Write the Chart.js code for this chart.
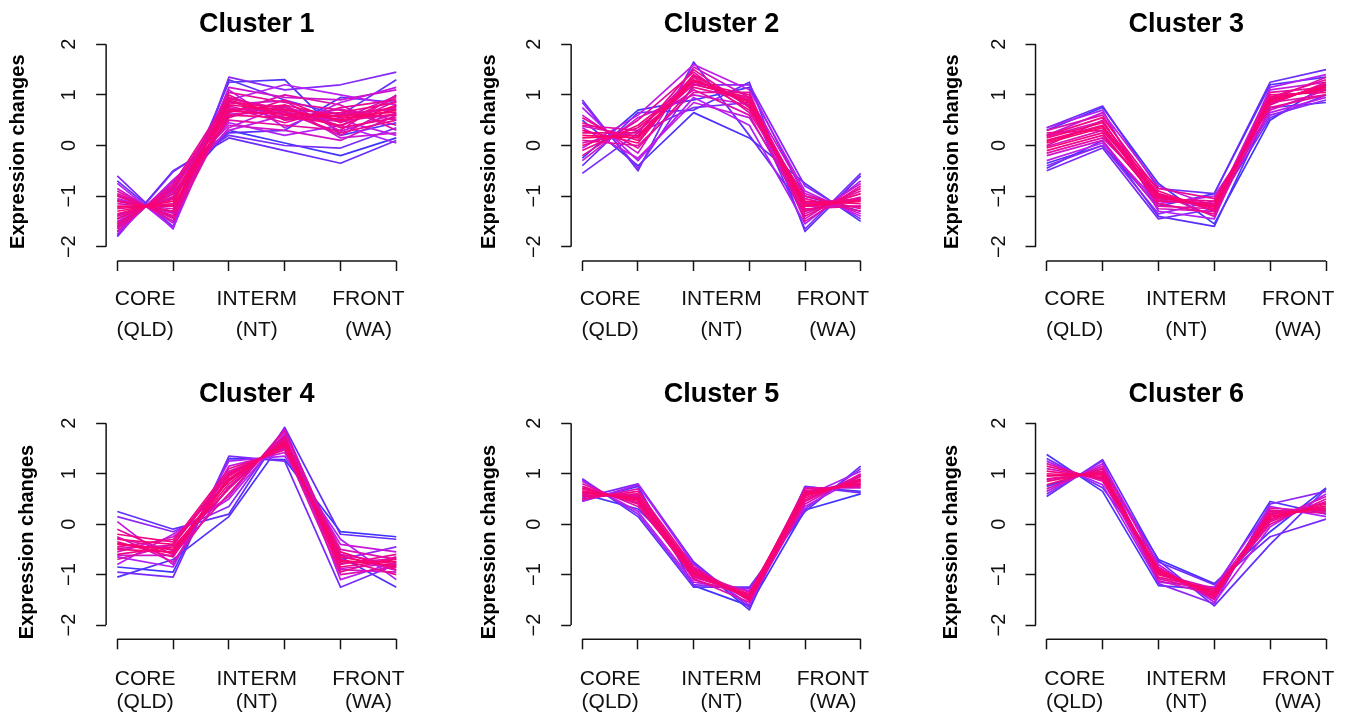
<!DOCTYPE html>
<html>
<head>
<meta charset="utf-8">
<title>Mfuzz clusters</title>
<script src="https://cdn.jsdelivr.net/npm/chart.js@4/dist/chart.umd.min.js"></script>
<style>
  body { margin: 0; background: #fff; }
  #page { position: relative; width: 1351px; height: 717px; overflow: hidden; background: #fff; }
  #page canvas { position: absolute; }
</style>
</head>
<body>
<div id="page"></div>
<script>
// sample positions: two per region
const timePoints = [1, 2, 3, 4, 5, 6];
const stageLabels = [['CORE', '(QLD)'], ['INTERM', '(NT)'], ['FRONT', '(WA)']];
const stagePos = [1.5, 3.5, 5.5];
const yTicks = [-2, -1, 0, 1, 2];
const yTickLabels = ['\u22122', '\u22121', '0', '1', '2'];
const clusterTitles = ['Cluster 1', 'Cluster 2', 'Cluster 3', 'Cluster 4', 'Cluster 5', 'Cluster 6'];

// profiles, one row per gene, with its membership
const cluster1 = [
  [-1.30, -1.10, 0.80, 0.70, 0.50, 0.70],
  [-1.10, -1.30, 0.90, 0.60, 0.40, 0.80],
  [-1.45, -0.96, 0.70, 0.80, 0.55, 0.60],
  [-1.20, -1.20, 0.60, 0.55, 0.65, 0.85],
  [-1.55, -0.87, 0.85, 0.75, 0.35, 0.55],
  [-1.00, -1.39, 1.00, 0.50, 0.60, 0.75],
  [-1.35, -1.06, 0.55, 0.90, 0.45, 0.95],
  [-1.65, -0.77, 0.95, 0.65, 0.25, 0.50],
  [-0.95, -1.44, 0.75, 0.45, 0.75, 0.90],
  [-1.25, -1.15, 1.05, 0.85, 0.70, 0.40],
  [-1.40, -1.01, 0.50, 0.40, 0.30, 1.00],
  [-0.90, -1.49, 0.65, 1.00, 0.80, 0.30],
  [-1.60, -0.82, 0.88, 0.55, 0.48, 0.62],
  [-1.15, -1.25, 0.72, 0.68, 0.20, 0.78],
  [-1.70, -0.72, 0.40, 0.30, 0.10, 0.60],
  [-0.85, -1.53, 1.15, 0.95, 0.90, 1.10],
  [-1.50, -0.92, 0.35, 0.80, 0.15, 0.25],
  [-1.05, -1.34, 1.10, 0.35, 0.85, 1.15],
  [-1.75, -0.68, 0.30, 0.60, 0.50, 0.20],
  [-0.75, -1.63, 0.90, 1.20, 1.00, 0.80],
  [-1.62, -0.80, 0.45, 0.20, 0.40, 0.05],
  [-0.60, -1.65, 1.35, 1.10, 1.20, 1.45],
  [-1.80, -0.52, 0.20, 0.00, -0.05, 0.35],
  [-1.78, -0.50, 0.15, -0.10, -0.35, 0.10],
  [-0.70, -1.60, 1.30, 0.90, 0.60, 1.30],
  [-1.70, -0.72, 0.25, 0.30, 0.95, 0.85],
  [-1.10, -1.30, 1.25, 1.30, 0.20, 0.45],
  [-1.45, -0.96, 0.30, 0.05, -0.20, 0.15],
  [-1.22, -1.18, 0.68, 0.62, 0.58, 0.66],
  [-1.38, -1.04, 0.92, 0.72, 0.62, 0.72],
  [-1.08, -1.32, 0.58, 0.78, 0.38, 0.88],
  [-1.52, -0.90, 0.78, 0.52, 0.72, 0.50],
  [-0.98, -1.42, 0.82, 0.88, 0.28, 0.64],
  [-1.58, -0.85, 0.62, 0.66, 0.52, 0.98]
];
const member1 = [0.98, 0.96, 0.95, 0.94, 0.93, 0.92, 0.91, 0.90, 0.89, 0.88, 0.87, 0.86, 0.85, 0.84,
  0.80, 0.78, 0.76, 0.74, 0.72, 0.70, 0.68, 0.58, 0.55, 0.52, 0.50, 0.48, 0.45, 0.42,
  0.97, 0.83, 0.82, 0.81, 0.79, 0.77];

const cluster2 = [
  [0.15, 0.20, 1.30, 0.85, -1.20, -1.10],
  [0.30, 0.05, 1.40, 0.80, -1.10, -1.15],
  [0.00, 0.35, 1.20, 0.95, -1.30, -0.95],
  [0.45, 0.10, 1.35, 0.70, -1.00, -1.25],
  [-0.10, 0.40, 1.25, 1.00, -1.40, -0.85],
  [0.25, 0.25, 1.50, 0.75, -1.15, -1.05],
  [0.55, -0.05, 1.15, 0.90, -1.25, -1.20],
  [-0.20, 0.50, 1.45, 0.65, -1.05, -1.30],
  [0.10, 0.00, 1.05, 1.05, -1.50, -0.80],
  [0.40, 0.30, 1.10, 0.60, -1.35, -0.90],
  [0.60, -0.15, 1.55, 0.95, -0.95, -1.35],
  [-0.30, 0.55, 1.00, 0.80, -1.45, -0.75],
  [0.35, -0.25, 0.85, 0.55, -1.20, -1.20],
  [-0.05, 0.60, 1.60, 1.10, -0.90, -1.40],
  [0.75, -0.30, 0.95, 0.40, -1.55, -0.70],
  [0.85, -0.45, 1.20, 1.20, -0.80, -1.45],
  [-0.55, 0.25, 0.75, 0.85, -1.65, -0.55],
  [0.90, -0.50, 1.65, 0.20, -1.30, -1.05],
  [-0.40, 0.65, 0.70, 1.25, -1.70, -0.60],
  [0.50, -0.40, 0.65, 0.15, -0.75, -1.50],
  [-0.25, 0.70, 0.90, 1.15, -1.00, -1.30],
  [0.20, 0.15, 1.28, 0.88, -1.18, -1.08],
  [0.05, 0.28, 1.38, 0.78, -1.28, -1.02],
  [0.38, 0.18, 1.22, 0.92, -1.12, -1.22]
];
const member2 = [0.98, 0.96, 0.95, 0.93, 0.92, 0.91, 0.90, 0.88, 0.87, 0.85, 0.80,
  0.78, 0.75, 0.72, 0.68, 0.60, 0.55, 0.52, 0.50, 0.45, 0.42, 0.97, 0.83, 0.82];

const cluster3 = [
  [0.05, 0.35, -1.00, -1.20, 0.90, 1.15],
  [0.15, 0.45, -0.95, -1.25, 0.95, 1.10],
  [-0.05, 0.25, -1.10, -1.15, 0.85, 1.20],
  [0.20, 0.55, -0.90, -1.30, 1.00, 1.05],
  [-0.10, 0.20, -1.05, -1.10, 0.80, 1.25],
  [0.10, 0.40, -1.15, -1.35, 0.95, 1.30],
  [0.25, 0.30, -0.85, -1.05, 0.75, 1.00],
  [0.00, 0.50, -1.20, -1.25, 1.05, 1.15],
  [-0.15, 0.15, -0.95, -1.40, 0.85, 1.00],
  [0.30, 0.60, -1.05, -1.15, 0.90, 1.35],
  [-0.20, 0.10, -1.25, -1.30, 0.70, 1.10],
  [0.20, 0.65, -0.80, -1.20, 1.10, 1.25],
  [-0.30, 0.05, -1.15, -1.00, 0.65, 0.95],
  [0.35, 0.70, -1.30, -1.45, 1.15, 1.40],
  [-0.40, 0.00, -1.35, -1.10, 0.60, 0.90],
  [-0.50, -0.05, -1.45, -1.25, 0.55, 1.00],
  [0.35, 0.78, -0.85, -0.95, 1.25, 1.50],
  [-0.45, 0.10, -1.40, -1.60, 0.75, 0.85],
  [-0.35, 0.00, -1.20, -0.95, 1.20, 1.35],
  [0.30, 0.75, -0.75, -1.55, 0.50, 1.20],
  [0.08, 0.38, -1.02, -1.22, 0.88, 1.18],
  [-0.02, 0.30, -0.98, -1.28, 0.92, 1.12],
  [0.18, 0.48, -1.08, -1.18, 0.82, 1.22]
];
const member3 = [0.98, 0.96, 0.95, 0.94, 0.92, 0.91, 0.90, 0.88, 0.86, 0.84,
  0.80, 0.76, 0.72, 0.68, 0.60, 0.55, 0.52, 0.48, 0.45, 0.42, 0.97, 0.83, 0.82];

const cluster4 = [
  [-0.40, -0.50, 0.90, 1.60, -0.75, -0.75],
  [-0.30, -0.40, 1.00, 1.55, -0.65, -0.85],
  [-0.50, -0.55, 0.80, 1.68, -0.85, -0.70],
  [-0.20, -0.35, 1.10, 1.47, -0.55, -0.90],
  [-0.60, -0.45, 0.70, 1.75, -0.95, -0.65],
  [-0.35, -0.65, 0.95, 1.58, -0.70, -1.00],
  [-0.45, -0.30, 0.85, 1.64, -0.80, -0.60],
  [-0.10, -0.60, 0.60, 1.85, -0.60, -0.80],
  [-0.70, -0.40, 1.05, 1.50, -1.00, -0.85],
  [-0.25, -0.75, 0.75, 1.70, -0.50, -0.70],
  [-0.55, -0.25, 0.55, 1.88, -0.90, -0.95],
  [0.05, -0.80, 1.15, 1.42, -0.40, -0.55],
  [-0.80, -0.20, 0.50, 1.80, -1.10, -0.75],
  [-0.65, -0.85, 1.25, 1.35, -0.30, -1.10],
  [0.15, -0.15, 0.35, 1.90, -0.70, -0.45],
  [-0.95, -1.05, 1.35, 1.25, -1.25, -0.80],
  [0.25, -0.10, 0.20, 1.92, -0.20, -0.30],
  [-1.05, -0.70, 0.15, 1.70, -0.65, -1.25],
  [-0.85, -0.95, 1.30, 1.28, -0.15, -0.25],
  [-0.38, -0.58, 0.88, 1.62, -0.72, -0.82],
  [-0.48, -0.42, 0.98, 1.53, -0.78, -0.68],
  [-0.28, -0.52, 0.72, 1.72, -0.62, -0.92],
  [-0.62, -0.62, 1.02, 1.52, -0.88, -0.78]
];
const member4 = [0.98, 0.96, 0.95, 0.93, 0.92, 0.91, 0.90, 0.88, 0.86, 0.84,
  0.80, 0.76, 0.72, 0.68, 0.60, 0.55, 0.50, 0.46, 0.42, 0.97, 0.83, 0.82, 0.79];

const cluster5 = [
  [0.62, 0.52, -0.95, -1.45, 0.58, 0.85],
  [0.70, 0.45, -1.00, -1.40, 0.62, 0.80],
  [0.55, 0.60, -0.90, -1.50, 0.52, 0.90],
  [0.75, 0.40, -1.05, -1.38, 0.66, 0.78],
  [0.50, 0.65, -0.85, -1.52, 0.48, 0.95],
  [0.66, 0.48, -1.10, -1.42, 0.70, 0.75],
  [0.58, 0.55, -0.92, -1.48, 0.45, 0.98],
  [0.80, 0.35, -0.98, -1.35, 0.60, 0.88],
  [0.48, 0.70, -1.08, -1.55, 0.40, 1.00],
  [0.72, 0.42, -0.88, -1.44, 0.72, 0.72],
  [0.85, 0.25, -1.15, -1.32, 0.35, 0.95],
  [0.45, 0.78, -0.80, -1.60, 0.55, 1.05],
  [0.88, 0.20, -1.20, -1.28, 0.30, 1.10],
  [0.52, 0.80, -0.75, -1.65, 0.75, 0.62],
  [0.90, 0.15, -1.25, -1.25, 0.25, 1.15],
  [0.60, 0.30, -0.78, -1.70, 0.74, 0.65],
  [0.46, 0.75, -1.22, -1.62, 0.28, 0.60],
  [0.64, 0.50, -0.97, -1.46, 0.56, 0.86],
  [0.56, 0.58, -1.02, -1.44, 0.64, 0.82]
];
const member5 = [0.98, 0.96, 0.95, 0.93, 0.92, 0.90, 0.88, 0.86, 0.84, 0.80,
  0.72, 0.68, 0.60, 0.55, 0.50, 0.45, 0.42, 0.97, 0.83];

const cluster6 = [
  [0.95, 1.00, -0.95, -1.38, 0.15, 0.35],
  [1.05, 0.92, -0.90, -1.42, 0.20, 0.30],
  [0.85, 1.05, -1.00, -1.32, 0.10, 0.40],
  [1.15, 0.88, -0.88, -1.45, 0.25, 0.28],
  [0.78, 1.10, -1.05, -1.30, 0.05, 0.45],
  [1.00, 0.95, -0.92, -1.48, 0.28, 0.22],
  [0.90, 1.02, -1.08, -1.35, 0.00, 0.50],
  [1.20, 0.85, -0.98, -1.28, 0.18, 0.42],
  [0.70, 1.15, -0.85, -1.50, 0.32, 0.25],
  [1.10, 0.90, -1.12, -1.40, 0.08, 0.55],
  [0.65, 1.20, -0.80, -1.55, -0.05, 0.60],
  [1.25, 0.78, -1.15, -1.25, 0.35, 0.15],
  [0.60, 1.25, -1.18, -1.58, 0.40, 0.65],
  [1.30, 0.72, -0.75, -1.20, -0.25, 0.10],
  [0.55, 1.28, -0.72, -1.62, -0.40, 0.70],
  [1.38, 0.65, -1.22, -1.30, 0.45, 0.20],
  [0.75, 1.10, -0.70, -1.18, -0.15, 0.72],
  [0.97, 0.98, -0.96, -1.36, 0.14, 0.36],
  [0.88, 1.04, -0.94, -1.44, 0.22, 0.32]
];
const member6 = [0.98, 0.96, 0.95, 0.93, 0.92, 0.90, 0.88, 0.86, 0.84, 0.80,
  0.72, 0.68, 0.60, 0.55, 0.50, 0.45, 0.42, 0.97, 0.83];

const clusters = [cluster1, cluster2, cluster3, cluster4, cluster5, cluster6];
const members = [member1, member2, member3, member4, member5, member6];

// page geometry, measured on the reference (pixels)
const cols = [
  { x1: 117.3, x6: 396.3 },
  { x1: 582.3, x6: 860.7 },
  { x1: 1046.7, x6: 1326.0 }
];
const rows = [
  { top: 0, height: 350, y2: 44.3, yM2: 246.7, axisY: 261.0, labelPad: 13, labelLine: 1.48, yTitleAlign: 'center' },
  { top: 370, height: 347, y2: 423.3, yM2: 625.0, axisY: 639.3, labelPad: 18, labelLine: 1.1, yTitleAlign: 'start' }
];
const yTitleGap = [88, 82, 84, 79, 82, 85];

const FONT = "'Liberation Sans', Arial, sans-serif";
const INK = '#141414';
const Y_AXIS_W = 106;
const TITLE_SIZE = 27, TITLE_PAD_TOP = 8, TITLE_PAD_BOTTOM = 2;

// membership -> colour: blue (low) through violet to pink (high)
function memberColour(m) {
  const stops = [[0.40, [55, 55, 255]], [0.70, [185, 30, 245]], [1.00, [255, 0, 100]]];
  if (m <= stops[0][0]) return `rgb(${stops[0][1].join(',')})`;
  for (let i = 1; i < stops.length; i++) {
    if (m <= stops[i][0]) {
      const t = (m - stops[i - 1][0]) / (stops[i][0] - stops[i - 1][0]);
      const c = stops[i - 1][1].map((a, k) => Math.round(a + t * (stops[i][1][k] - a)));
      return `rgb(${c.join(',')})`;
    }
  }
  return `rgb(${stops[2][1].join(',')})`;
}

// R style axis lines: only from first to last tick
const axisLines = {
  id: 'axisLines',
  afterDraw(chart) {
    const { ctx, chartArea, scales: { x, y } } = chart;
    ctx.save();
    ctx.strokeStyle = INK;
    ctx.lineWidth = 1.5;
    ctx.beginPath();
    ctx.moveTo(chartArea.left, y.getPixelForValue(yTicks[0]));
    ctx.lineTo(chartArea.left, y.getPixelForValue(yTicks[yTicks.length - 1]));
    ctx.moveTo(x.getPixelForValue(timePoints[0]), chartArea.bottom);
    ctx.lineTo(x.getPixelForValue(timePoints[timePoints.length - 1]), chartArea.bottom);
    ctx.stroke();
    ctx.restore();
  }
};

const page = document.getElementById('page');

clusters.forEach((profiles, idx) => {
  const row = rows[Math.floor(idx / 3)];
  const col = cols[idx % 3];

  // x range like R: 4% extension on both sides
  const pxPerX = (col.x6 - col.x1) / 5;
  const chartLeft = col.x1 - 0.2 * pxPerX;
  const chartRight = col.x6 + 0.2 * pxPerX;
  const canvasLeft = Math.round(chartLeft) - Y_AXIS_W;
  const yAxisW = chartLeft - canvasLeft;
  const canvasW = Math.ceil(chartRight - canvasLeft) + 12;
  const rightPad = canvasW - (chartRight - canvasLeft);

  const titleBlock = TITLE_PAD_TOP + TITLE_SIZE * 1.2 + TITLE_PAD_BOTTOM;
  const chartTop = row.top + titleBlock;
  const pxPerY = (row.yM2 - row.y2) / 4;
  const yMax = 2 + (row.y2 - chartTop) / pxPerY;
  const yMin = -2 - (row.axisY - row.yM2) / pxPerY;
  const xAxisH = row.top + row.height - row.axisY;

  const canvas = document.createElement('canvas');
  canvas.width = canvasW;
  canvas.height = row.height;
  canvas.style.left = canvasLeft + 'px';
  canvas.style.top = row.top + 'px';
  page.appendChild(canvas);

  // highest membership first, so it is painted on top
  const order = profiles.map((_, i) => i).sort((a, b) => members[idx][b] - members[idx][a]);
  const datasets = order.map(i => ({
    data: profiles[i].map((v, k) => ({ x: timePoints[k], y: v })),
    borderColor: memberColour(members[idx][i]),
    borderWidth: 1.7,
    pointRadius: 0,
    tension: 0,
    borderJoinStyle: 'round',
    fill: false
  }));

  new Chart(canvas, {
    type: 'line',
    data: { datasets },
    options: {
      responsive: false,
      animation: false,
      events: [],
      layout: { padding: { left: 0, right: rightPad, top: 0, bottom: 0 } },
      plugins: {
        legend: { display: false },
        tooltip: { enabled: false },
        title: {
          display: true,
          text: clusterTitles[idx],
          fullSize: false,
          color: '#000',
          font: { family: FONT, size: TITLE_SIZE, weight: 'bold', lineHeight: 1.2 },
          padding: { top: TITLE_PAD_TOP, bottom: TITLE_PAD_BOTTOM }
        }
      },
      scales: {
        x: {
          type: 'linear',
          min: 0.8,
          max: 6.2,
          afterBuildTicks: (s) => { s.ticks = timePoints.concat(stagePos).sort((a, b) => a - b).map(v => ({ value: v })); },
          afterFit: (s) => { s.height = xAxisH; },
          border: { display: false },
          grid: {
            drawOnChartArea: false,
            drawTicks: true,
            tickLength: 10,
            tickWidth: 1.5,
            tickColor: (c) => (timePoints.includes(c.tick && c.tick.value) ? INK : 'rgba(0,0,0,0)')
          },
          ticks: {
            autoSkip: false,
            maxRotation: 0,
            minRotation: 0,
            padding: row.labelPad,
            color: '#111',
            font: { family: FONT, size: 21, lineHeight: row.labelLine },
            callback: (v) => {
              const k = stagePos.indexOf(v);
              return k >= 0 ? stageLabels[k] : '';
            }
          }
        },
        y: {
          type: 'linear',
          min: yMin,
          max: yMax,
          afterBuildTicks: (s) => { s.ticks = yTicks.map(v => ({ value: v })); },
          afterFit: (s) => { s.width = yAxisW; },
          border: { display: false },
          grid: {
            drawOnChartArea: false,
            drawTicks: true,
            tickLength: 10,
            tickWidth: 1.5,
            tickColor: INK
          },
          ticks: {
            autoSkip: false,
            minRotation: 90,
            maxRotation: 90,
            crossAlign: 'center',
            padding: 15,
            color: '#111',
            font: { family: FONT, size: 20 },
            callback: (v) => yTickLabels[yTicks.indexOf(v)]
          },
          title: {
            display: true,
            text: 'Expression changes',
            align: row.yTitleAlign,
            color: '#000',
            font: { family: FONT, size: 20, weight: 'bold', lineHeight: 1.2 },
            padding: { top: Math.max(0, Y_AXIS_W - yTitleGap[idx] - 12), bottom: 0 }
          }
        }
      }
    },
    plugins: [axisLines]
  });
});
</script>
</body>
</html>
